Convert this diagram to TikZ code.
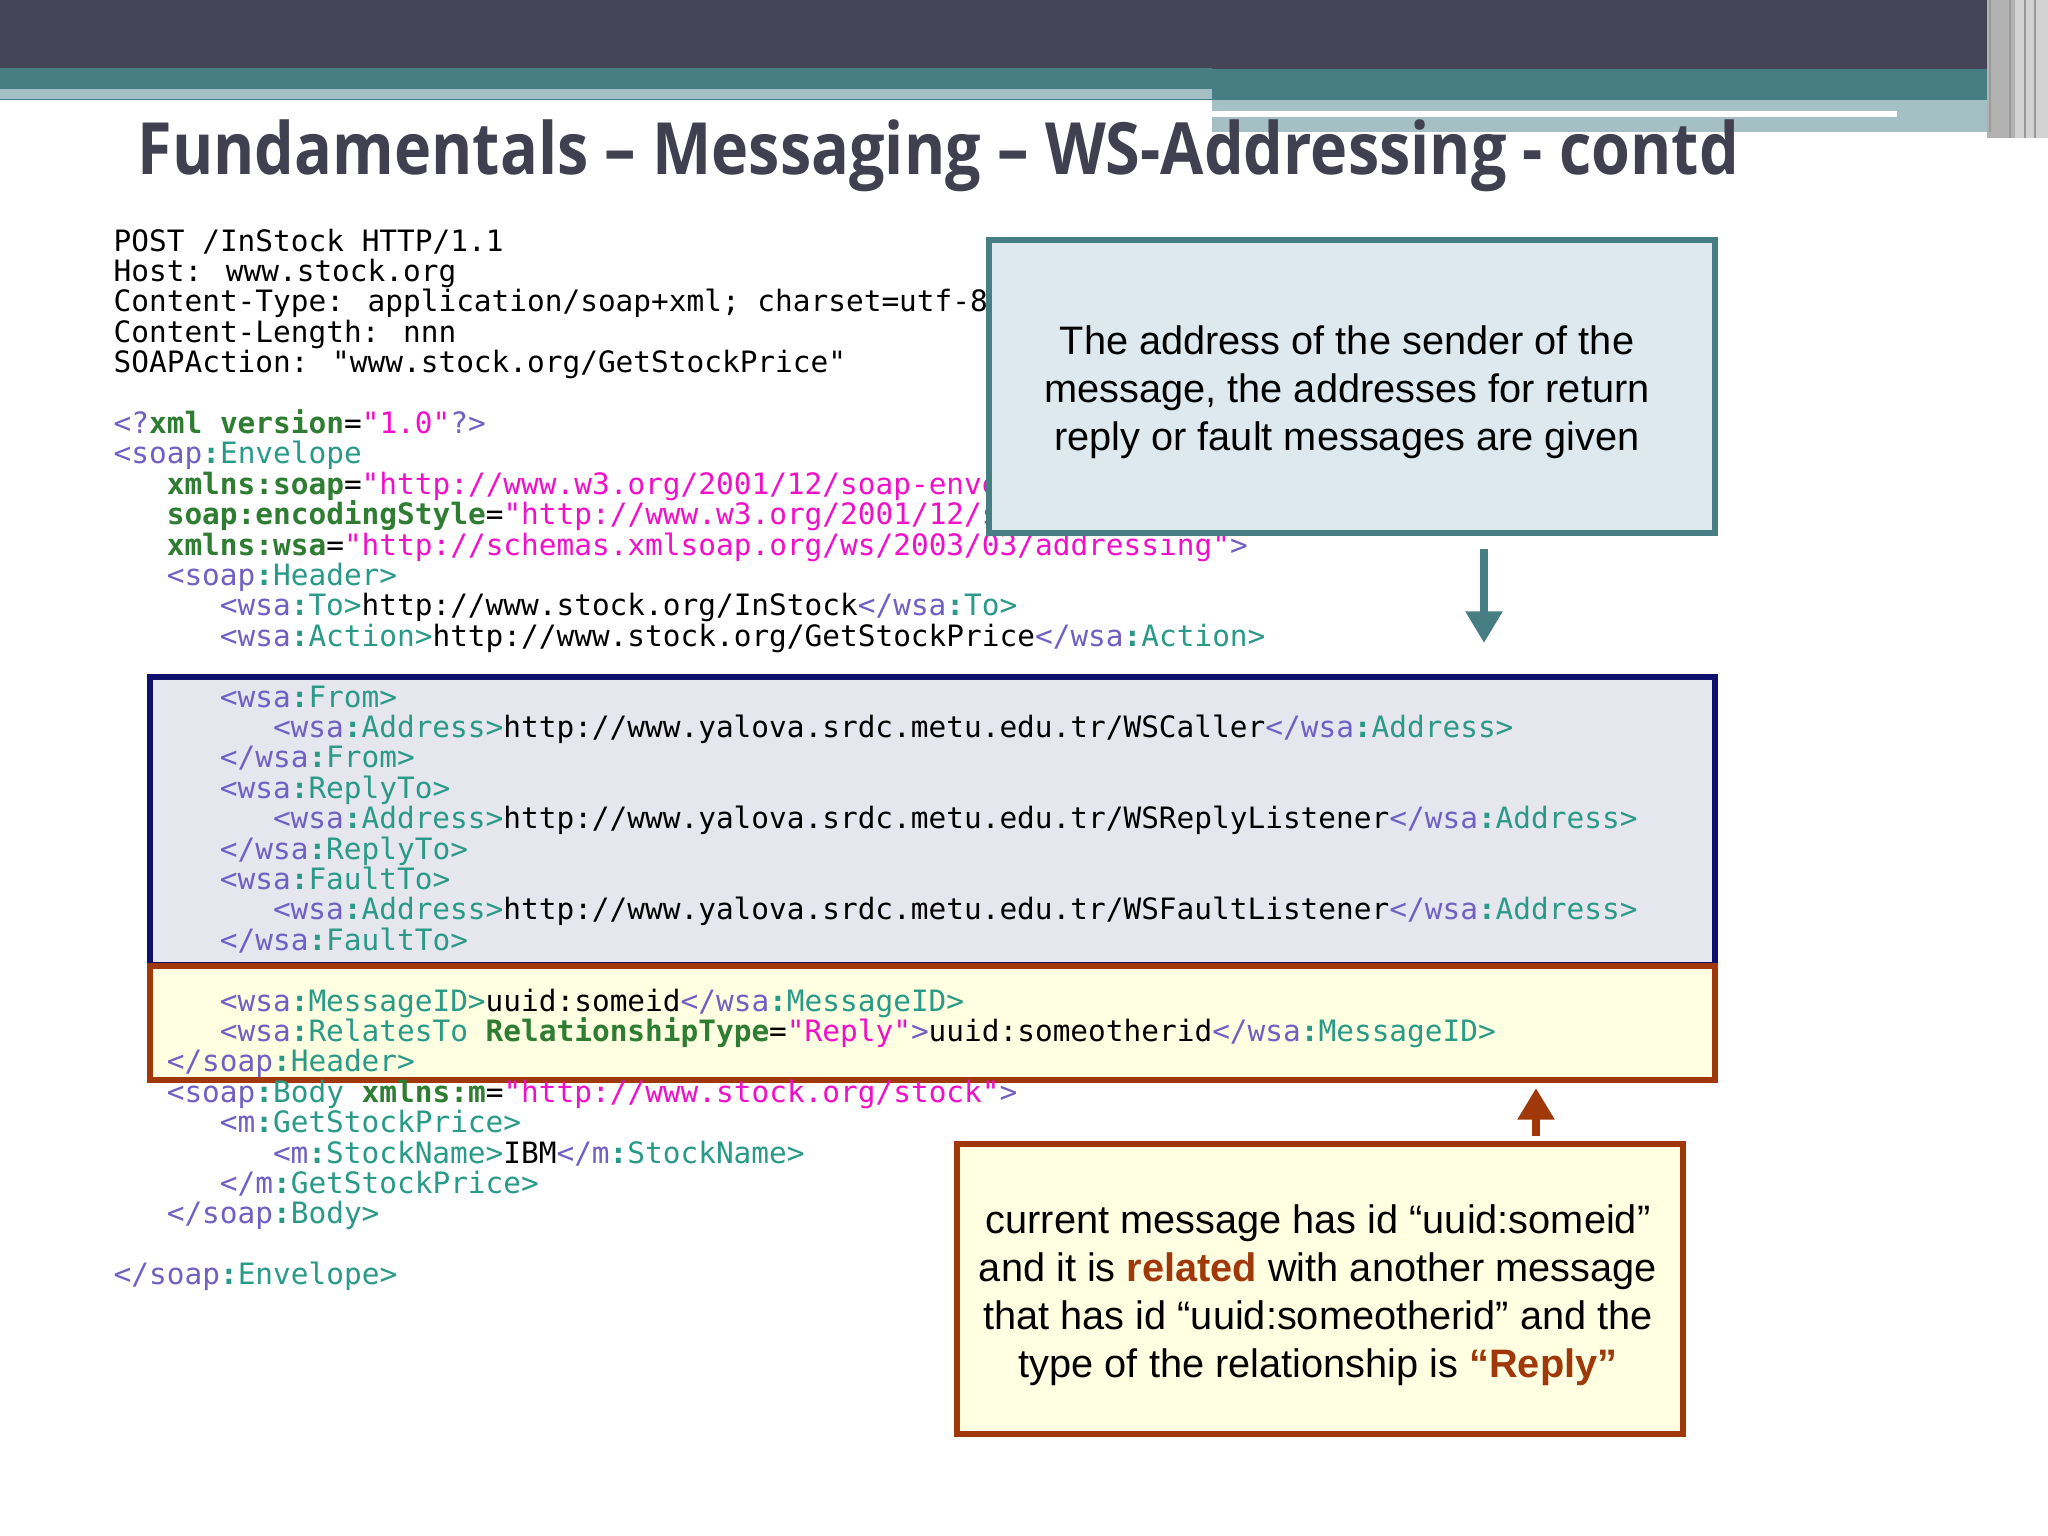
\documentclass[tikz,border=0pt]{standalone}
\usepackage{fontspec}
\usetikzlibrary{arrows.meta}
\setmainfont{Liberation Sans}
\newfontfamily\codef{DejaVu Sans Mono}
\newfontfamily\titlef{Open Sans}
\definecolor{darkbar}{HTML}{454558}
\definecolor{tealbar}{HTML}{467E84}
\definecolor{lightteal}{HTML}{A5C0C4}
\definecolor{titlec}{HTML}{404050}
\definecolor{tagp}{HTML}{7060C4}
\definecolor{tagn}{HTML}{2A9A88}
\definecolor{attrg}{HTML}{2E7D32}
\definecolor{valm}{HTML}{F010C8}
\definecolor{bluefill}{HTML}{E6E6EE}
\definecolor{navy}{HTML}{10106E}
\definecolor{yelfill}{HTML}{FFFFE2}
\definecolor{brownr}{HTML}{A0380A}
\definecolor{boxfill}{HTML}{DDE9EE}
\newcommand\Tg[2]{\textcolor{tagp}{#1}\textcolor{tagn}{\textbf{:}#2}}
\newcommand\Pg[1]{\textcolor{tagp}{#1}}
\newcommand\Atr[1]{\textcolor{attrg}{\textbf{#1}}}
\newcommand\Vl[1]{\textcolor{valm}{#1}}
\newcommand\Hl[1]{\textcolor{brownr}{\textbf{#1}}}
\tikzset{
  codeln/.style={anchor=base west, inner sep=0pt, font=\codef\fontsize{8.37pt}{10pt}\selectfont},
  note/.style={align=center, font=\fontsize{11.3pt}{13.6pt}\selectfont, inner sep=0pt},
}
\newcommand\Ln[3]{\node[codeln] (l#1) at ({113+#2*17.7},{251+#1*30.4}) {#3};}
\begin{document}
\begin{tikzpicture}[x=0.01cm,y=-0.01cm]
\useasboundingbox (0,0) rectangle (2048,1536);
\fill[white] (0,0) rectangle (2048,1536);
% header bars
\fill[darkbar] (0,0) rectangle (2048,69);
\fill[tealbar] (0,69) rectangle (2048,100);
\fill[tealbar] (0,68) rectangle (1212,89);
\fill[lightteal] (0,89) rectangle (1212,99);
\fill[lightteal] (1212,100) rectangle (1987,132);
\fill[white] (1212,111) rectangle (1897,117);
\fill[white] (0,100) rectangle (1212,140);
\fill[gray!60] (1987,0) rectangle (2048,138);
\fill[gray!35] (2015,0) rectangle (2048,138);
\draw[gray!80, line width=0.8pt] (1990,0) -- (1990,132) (2010,0) -- (2010,138) (2025,0) -- (2025,138) (2035,0) -- (2035,138);
\node[anchor=base west, inner sep=0pt, text=titlec, font=\titlef\bfseries\fontsize{20.5pt}{24pt}\selectfont] (title) at (137,174) {\scalebox{0.872}[1]{Fundamentals – Messaging – WS-Addressing - contd}};
% highlight boxes
\draw[navy, fill=bluefill, line width=1.5pt] (150,677) rectangle (1715,965);
\draw[brownr, fill=yelfill, line width=1.5pt] (150,966) rectangle (1715,1080);
% code
\Ln{0}{0}{POST /InStock HTTP/1.1}
\Ln{1}{0}{Host: www.stock.org}
\Ln{2}{0}{Content-Type: application/soap+xml; charset=utf-8}
\Ln{3}{0}{Content-Length: nnn}
\Ln{4}{0}{SOAPAction: "www.stock.org/GetStockPrice"}
\Ln{6}{0}{\Pg{<?}\Atr{xml version}=\Vl{"1.0"}\Pg{?>}}
\Ln{7}{0}{\Tg{<soap}{Envelope}}
\Ln{8}{3}{\Atr{xmlns:soap}=\Vl{"http://www.w3.org/2001/12/soap-envelope"}}
\Ln{9}{3}{\Atr{soap:encodingStyle}=\Vl{"http://www.w3.org/2001/12/soap-encoding"}}
\Ln{10}{3}{\Atr{xmlns:wsa}=\Vl{"http://schemas.xmlsoap.org/ws/2003/03/addressing"}\Pg{>}}
\Ln{11}{3}{\Tg{<soap}{Header>}}
\Ln{12}{6}{\Tg{<wsa}{To>}http://www.stock.org/InStock\Tg{</wsa}{To>}}
\Ln{13}{6}{\Tg{<wsa}{Action>}http://www.stock.org/GetStockPrice\Tg{</wsa}{Action>}}
\Ln{15}{6}{\Tg{<wsa}{From>}}
\Ln{16}{9}{\Tg{<wsa}{Address>}http://www.yalova.srdc.metu.edu.tr/WSCaller\Tg{</wsa}{Address>}}
\Ln{17}{6}{\Tg{</wsa}{From>}}
\Ln{18}{6}{\Tg{<wsa}{ReplyTo>}}
\Ln{19}{9}{\Tg{<wsa}{Address>}http://www.yalova.srdc.metu.edu.tr/WSReplyListener\Tg{</wsa}{Address>}}
\Ln{20}{6}{\Tg{</wsa}{ReplyTo>}}
\Ln{21}{6}{\Tg{<wsa}{FaultTo>}}
\Ln{22}{9}{\Tg{<wsa}{Address>}http://www.yalova.srdc.metu.edu.tr/WSFaultListener\Tg{</wsa}{Address>}}
\Ln{23}{6}{\Tg{</wsa}{FaultTo>}}
\Ln{25}{6}{\Tg{<wsa}{MessageID>}uuid:someid\Tg{</wsa}{MessageID>}}
\Ln{26}{6}{\Tg{<wsa}{RelatesTo} \Atr{RelationshipType}=\Vl{"Reply"}\Pg{>}uuid:someotherid\Tg{</wsa}{MessageID>}}
\Ln{27}{3}{\Tg{</soap}{Header>}}
\Ln{28}{3}{\Tg{<soap}{Body} \Atr{xmlns:m}=\Vl{"http://www.stock.org/stock"}\Pg{>}}
\Ln{29}{6}{\Tg{<m}{GetStockPrice>}}
\Ln{30}{9}{\Tg{<m}{StockName>}IBM\Tg{</m}{StockName>}}
\Ln{31}{6}{\Tg{</m}{GetStockPrice>}}
\Ln{32}{3}{\Tg{</soap}{Body>}}
\Ln{34}{0}{\Tg{</soap}{Envelope>}}
% top-right note
\draw[tealbar, fill=boxfill, line width=1.8pt] (989,240) rectangle (1715,533);
\node[note] (n1) at (1347,392) {The address of the sender of the\\message, the addresses for return\\reply or fault messages are given};
\coordinate (a1s) at (1484,549);
\coordinate (a1e) at (1484,643);
\draw[tealbar, line width=2.5pt, -{Triangle[length=9pt,width=10pt]}] (a1s) -- (a1e);
% bottom note
\draw[brownr, fill=yelfill, line width=1.8pt] (957,1144) rectangle (1683,1434);
\node[note] (n2) at (1318,1295) {current message has id “uuid:someid”\\and it is \Hl{related} with another message\\that has id “uuid:someotherid” and the\\type of the relationship is \Hl{“Reply”}};
\coordinate (a2s) at (1536,1136);
\coordinate (a2e) at (1536,1088);
\draw[brownr, line width=2.5pt, -{Triangle[length=9pt,width=10pt]}] (a2s) -- (a2e);
\end{tikzpicture}
\end{document}
